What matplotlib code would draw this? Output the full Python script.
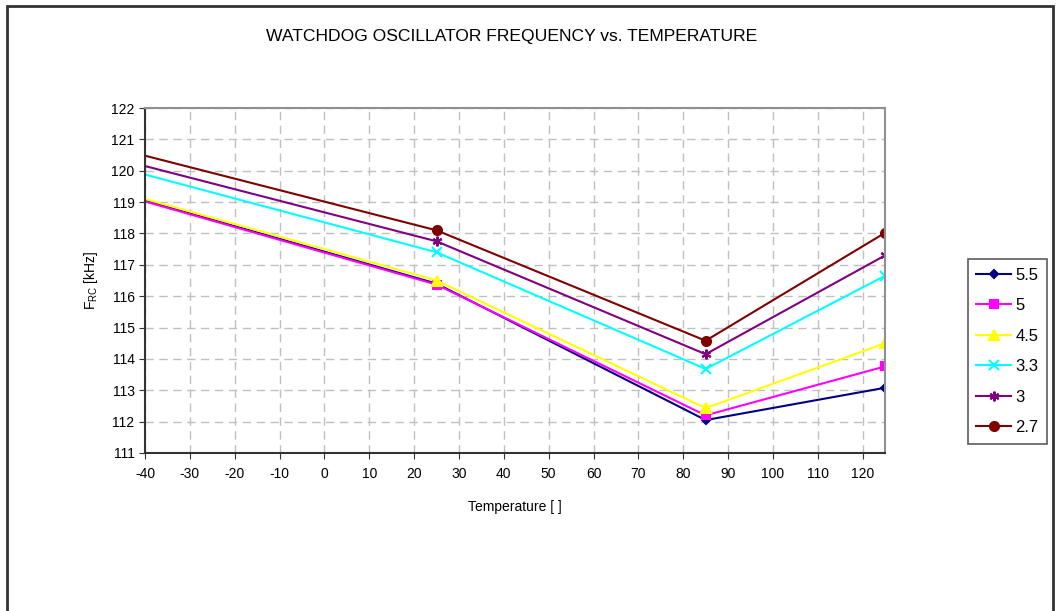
import matplotlib.pyplot as plt
from matplotlib.patches import Rectangle

plt.rcParams['font.family'] = ['Liberation Sans', 'DejaVu Sans']
plt.rcParams['axes.unicode_minus'] = False

# Temperatures and oscillator frequency per supply voltage
temperature = [-40, 25, 85, 125]
voltages = ['5.5', '5', '4.5', '3.3', '3', '2.7']
f_55 = [119.05, 116.40, 112.05, 113.08]
f_50 = [119.02, 116.37, 112.20, 113.76]
f_45 = [119.10, 116.50, 112.43, 114.50]
f_33 = [119.88, 117.40, 113.68, 116.65]
f_30 = [120.15, 117.75, 114.15, 117.30]
f_27 = [120.48, 118.10, 114.58, 118.02]

series = [f_55, f_50, f_45, f_33, f_30, f_27]
colors = ['#000080', '#FF00FF', '#FFFF00', '#00FFFF', '#800080', '#800000']
markers = ['D', 's', '^', 'x', (6, 2, 0), 'o']
msizes = [4.5, 6, 6.5, 7, 7, 6.5]

fig = plt.figure(figsize=(10.57, 6.11), dpi=100)
ax = fig.add_axes([0.1372, 0.2586, 0.7001, 0.5646])

for vals, lab, c, m, ms in zip(series, voltages, colors, markers, msizes):
    ax.plot(temperature, vals, color=c, lw=1.5, marker=m, ms=ms,
            mec=c, mfc=c, mew=1.5, markevery=[1, 2, 3], label=lab)

ax.set_xlim(-40, 125)
ax.set_ylim(111, 122)
ax.set_xticks(range(-40, 121, 10))
ax.set_yticks(range(111, 123))
ax.grid(True, color='#c0c0c0', linestyle=(0, (6, 4)), lw=1)
ax.tick_params(labelsize=10, length=4, direction='out', color='#333333')
ax.tick_params(axis='x', pad=6)

for side in ['top', 'right']:
    ax.spines[side].set_color('#909090')
    ax.spines[side].set_linewidth(1.5)
for side in ['left', 'bottom']:
    ax.spines[side].set_color('#333333')
    ax.spines[side].set_linewidth(1.5)

ax.set_xlabel('Temperature [ ]', fontsize=10, labelpad=14)
ax.set_ylabel(r'F$_{\mathregular{RC}}$ [kHz]', fontsize=10, labelpad=8)
fig.text(0.484, 0.940, 'WATCHDOG OSCILLATOR FREQUENCY vs. TEMPERATURE',
         ha='center', va='center', fontsize=12.6)

leg = ax.legend(loc='center left', bbox_to_anchor=(1.112, 0.294), fontsize=12,
                frameon=True, fancybox=False, edgecolor='#333333',
                handlelength=2.1, borderpad=0.5, labelspacing=0.93,
                handletextpad=0.25, borderaxespad=0)
leg.get_frame().set_linewidth(1.2)

# outer chart border
fig.patches.append(Rectangle((0.0066, -0.05), 0.9896, 1.04, transform=fig.transFigure,
                             fill=False, edgecolor='#333333', lw=2))

fig.savefig('out.png', dpi=100)
